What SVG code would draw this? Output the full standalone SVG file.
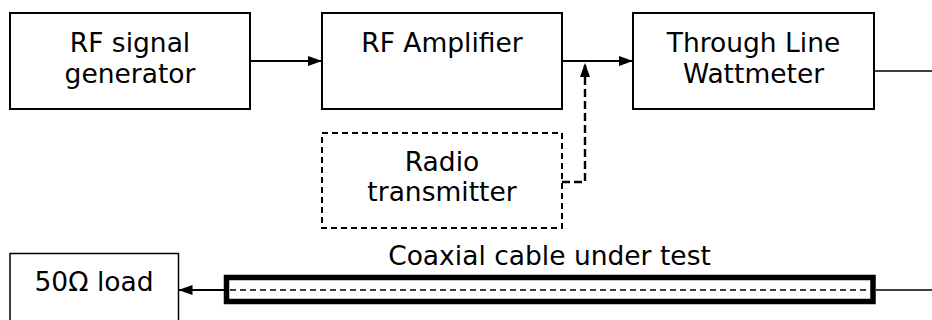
<svg xmlns="http://www.w3.org/2000/svg" width="932" height="320" viewBox="0 0 932 320">
<defs>
<style>
.box{fill:#fff;stroke:#000;stroke-width:2}
.dbox{fill:#fff;stroke:#000;stroke-width:2;stroke-dasharray:6,4}
text{font-family:"DejaVu Sans","Verdana",sans-serif;font-size:26.5px;fill:#000;text-anchor:middle}
.ln{fill:none;stroke:#000;stroke-width:2.2}
</style>
<marker id="ah" markerUnits="userSpaceOnUse" markerWidth="14" markerHeight="10" refX="14" refY="5" orient="auto">
<path d="M0,0 L14,5 L0,10 z" fill="#000"/>
</marker>
</defs>
<rect width="932" height="320" fill="#fff"/>
<g id="connectors">
<line class="ln" x1="250" y1="61" x2="322" y2="61" marker-end="url(#ah)"/>
<line class="ln" x1="562" y1="61" x2="633" y2="61" marker-end="url(#ah)"/>
<line x1="874" y1="71" x2="932" y2="71" stroke="#000" stroke-width="1.7"/>
<path d="M562,182 L585,182 L585,63" fill="none" stroke="#000" stroke-width="2.4" stroke-dasharray="8,4" marker-end="url(#ah)"/>
<line class="ln" x1="224" y1="290" x2="178.5" y2="290" marker-end="url(#ah)"/>
<line x1="876" y1="290" x2="932" y2="290" stroke="#000" stroke-width="1.5"/>
</g>
<g id="rf-signal-generator">
<rect class="box" x="10" y="13" width="240" height="96"/>
<text x="130" y="52">RF signal</text>
<text x="130" y="83">generator</text>
</g>
<g id="rf-amplifier">
<rect class="box" x="322" y="13" width="240" height="96"/>
<text x="442" y="52">RF Amplifier</text>
</g>
<g id="wattmeter">
<rect class="box" x="633" y="13" width="241" height="96"/>
<text x="753.5" y="52">Through Line</text>
<text x="753.5" y="83">Wattmeter</text>
</g>
<g id="radio-transmitter">
<rect class="dbox" x="322" y="133" width="240" height="95"/>
<text x="442" y="171">Radio</text>
<text x="442" y="201">transmitter</text>
</g>
<g id="load">
<rect x="10" y="253.5" width="168.5" height="80" fill="#fff" stroke="#000" stroke-width="1.5"/>
<text x="94" y="291">50Ω load</text>
</g>
<g id="coax">
<text x="549.5" y="265">Coaxial cable under test</text>
<rect x="226.5" y="277.5" width="646.5" height="24" fill="#fff" stroke="#000" stroke-width="5.5"/>
<line x1="230" y1="290" x2="870" y2="290" stroke="#000" stroke-width="1.5" stroke-dasharray="6,4"/>
</g>
</svg>
